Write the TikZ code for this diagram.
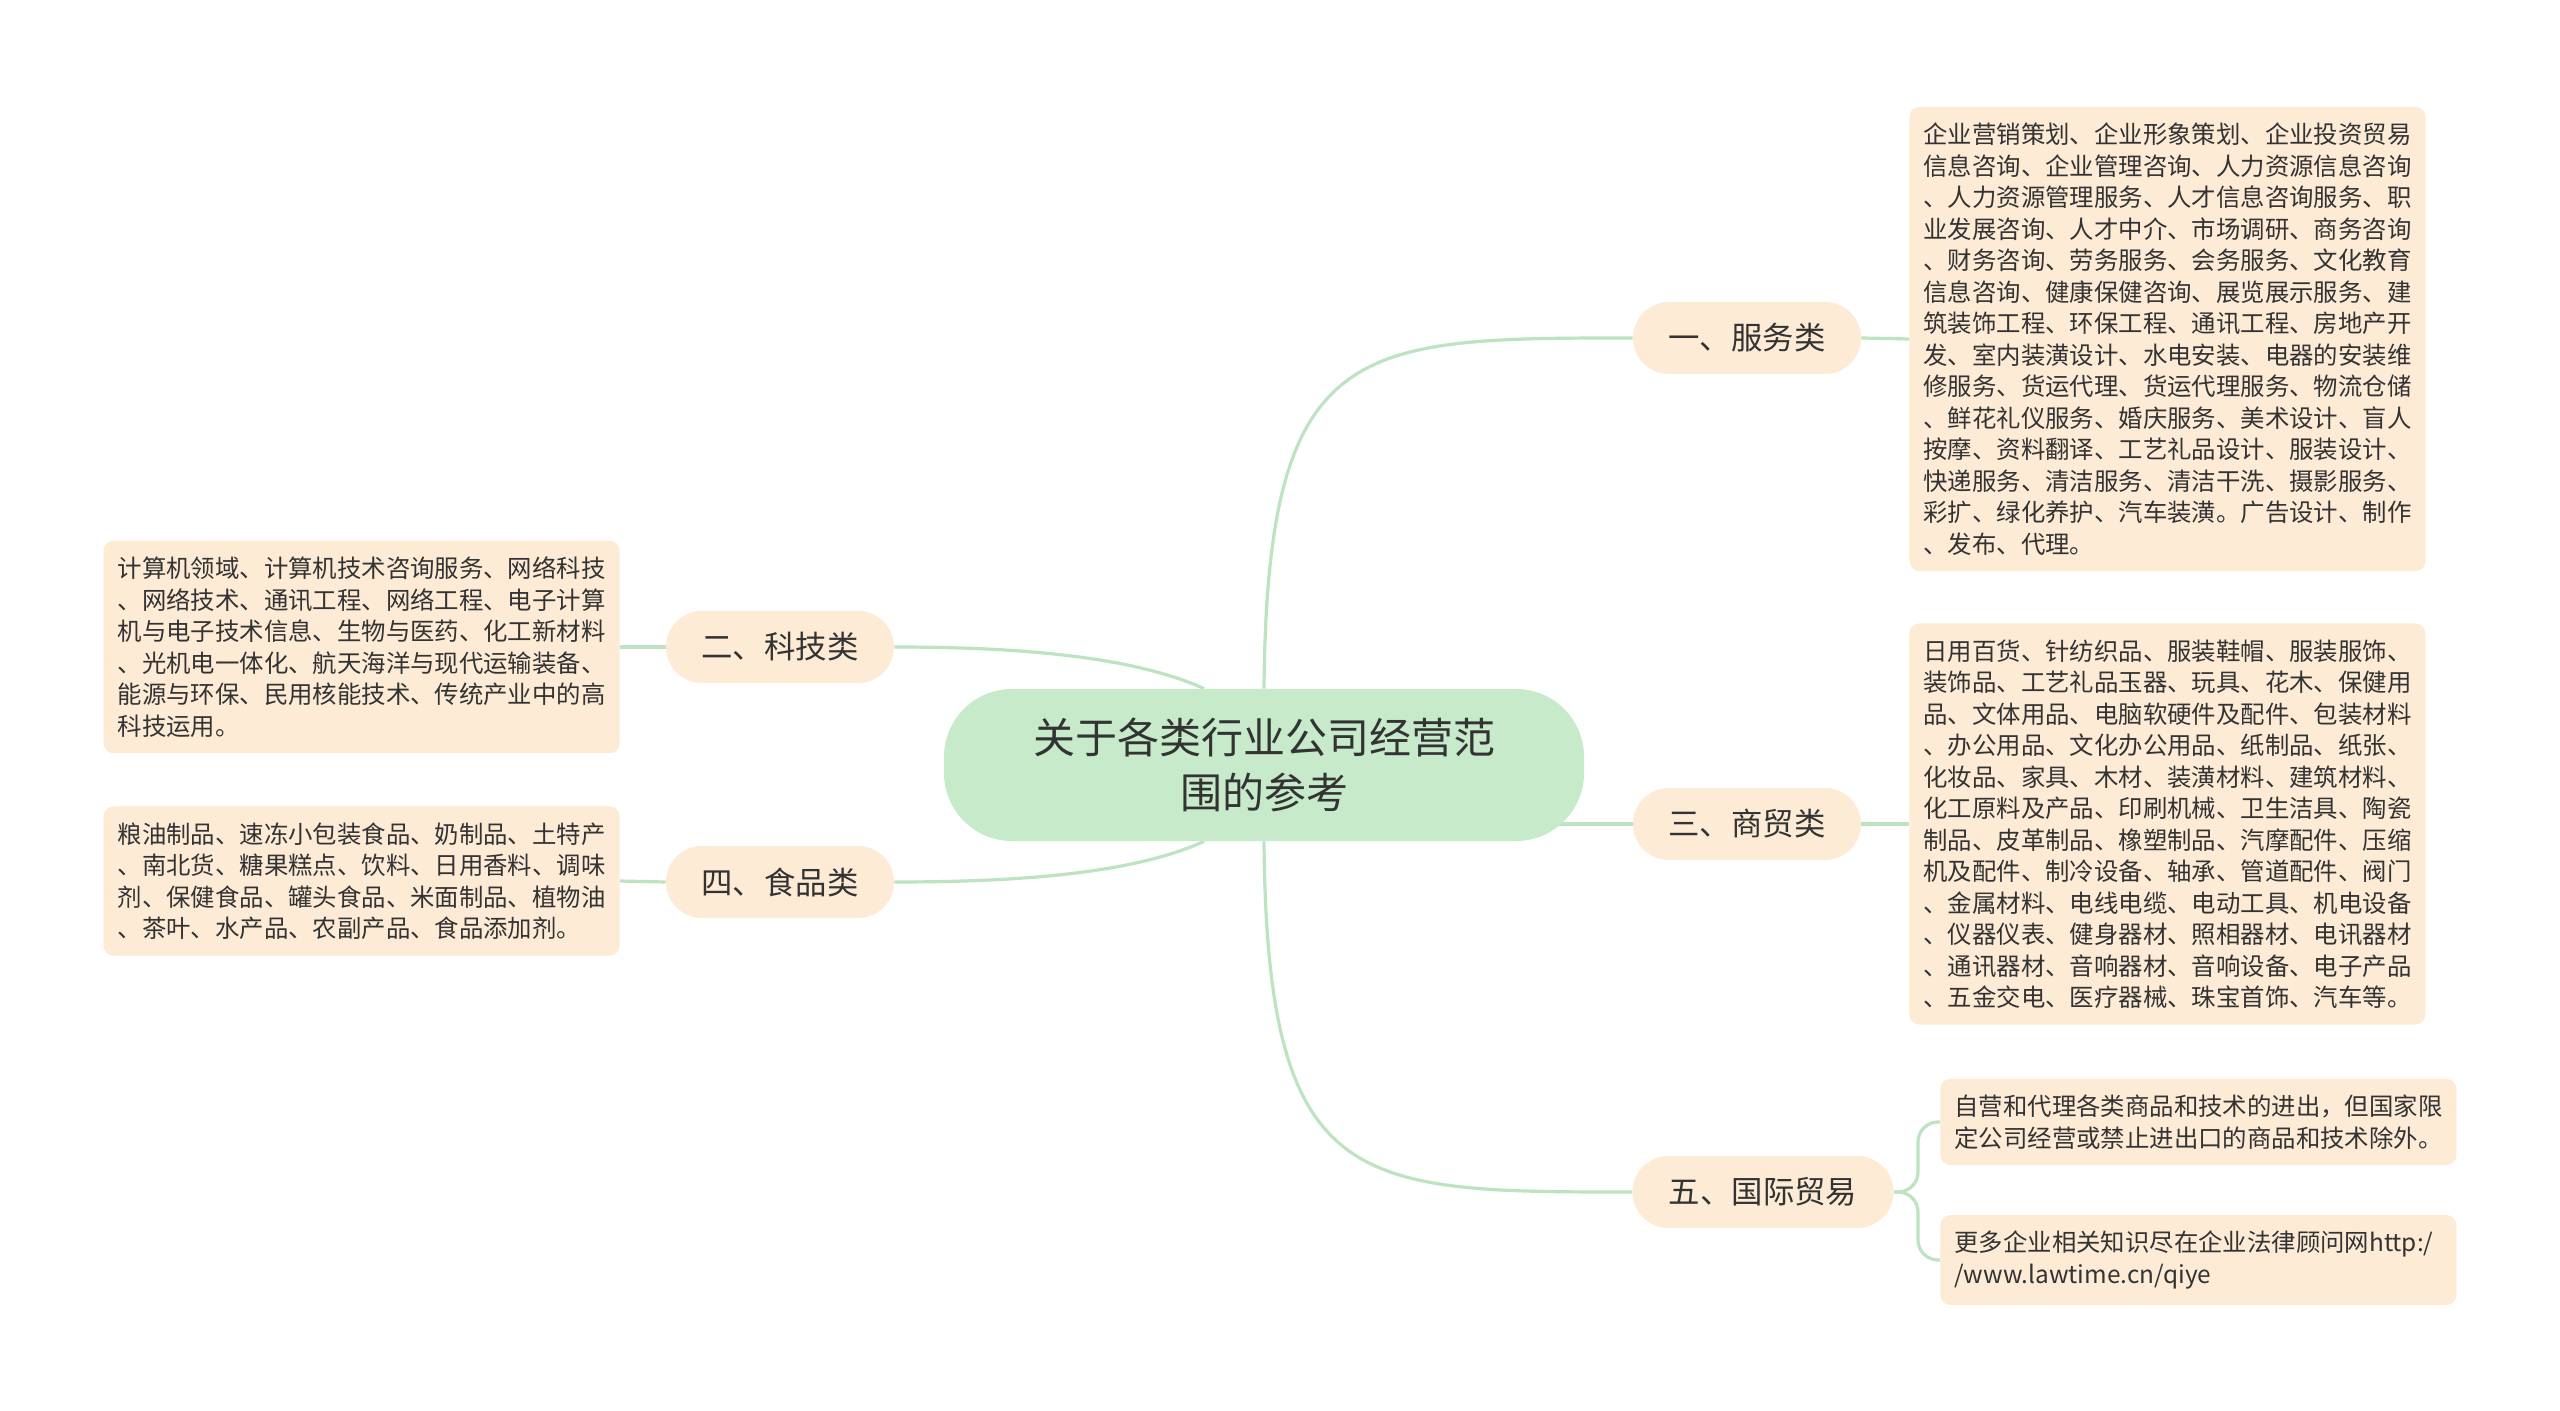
\documentclass[tikz,border=0pt]{standalone}
\usepackage{fontspec}
\setmainfont{Noto Sans CJK SC}
\usetikzlibrary{backgrounds}

\definecolor{topicgreen}{HTML}{C6EACA}
\definecolor{leafpeach}{HTML}{FDEBD6}
\definecolor{linkgreen}{HTML}{BDE3C1}
\definecolor{ink}{HTML}{333333}

\tikzset{
    topic/.style={fill=topicgreen, text=ink, rounded corners=34pt, minimum width=320pt, minimum height=76pt,
        align=center, font={\fontsize{21}{27.8}\selectfont}},
    branch/.style={fill=leafpeach, text=ink, rounded corners=18pt, minimum width=114pt, minimum height=36pt,
        font={\fontsize{15.7}{19}\selectfont}},
    leaf/.style={fill=leafpeach, text=ink, rounded corners=5pt, inner xsep=7pt, inner ysep=8pt,
        text width=244pt, align=left, font={\fontsize{12.2}{15.75}\selectfont}},
    link/.style={draw=linkgreen, line width=1.6pt},
}

\begin{document}
\begin{tikzpicture}[x=0.5pt, y=-0.5pt]
    \useasboundingbox (0, 0) rectangle (2560, 1411);

    \node[topic] (center) at (1264, 765) {关于各类行业公司经营范\\围的参考};

    \node[branch] (fu) at (1747, 338) {一、服务类};
    \node[branch] (shang) at (1747, 824) {三、商贸类};
    \node[branch, minimum width=130.5pt] (guoji) at (1763, 1192) {五、国际贸易};
    \node[branch] (keji) at (780, 647) {二、科技类};
    \node[branch] (shipin) at (780, 882) {四、食品类};

    \node[leaf, anchor=west] (fuleaf) at (1909, 339) {企业营销策划、企业形象策划、企业投资贸易\\
        信息咨询、企业管理咨询、人力资源信息咨询\\
        、人力资源管理服务、人才信息咨询服务、职\\
        业发展咨询、人才中介、市场调研、商务咨询\\
        、财务咨询、劳务服务、会务服务、文化教育\\
        信息咨询、健康保健咨询、展览展示服务、建\\
        筑装饰工程、环保工程、通讯工程、房地产开\\
        发、室内装潢设计、水电安装、电器的安装维\\
        修服务、货运代理、货运代理服务、物流仓储\\
        、鲜花礼仪服务、婚庆服务、美术设计、盲人\\
        按摩、资料翻译、工艺礼品设计、服装设计、\\
        快递服务、清洁服务、清洁干洗、摄影服务、\\
        彩扩、绿化养护、汽车装潢。广告设计、制作\\
        、发布、代理。};
    \node[leaf, anchor=west] (shangleaf) at (1909, 824) {日用百货、针纺织品、服装鞋帽、服装服饰、\\
        装饰品、工艺礼品玉器、玩具、花木、保健用\\
        品、文体用品、电脑软硬件及配件、包装材料\\
        、办公用品、文化办公用品、纸制品、纸张、\\
        化妆品、家具、木材、装潢材料、建筑材料、\\
        化工原料及产品、印刷机械、卫生洁具、陶瓷\\
        制品、皮革制品、橡塑制品、汽摩配件、压缩\\
        机及配件、制冷设备、轴承、管道配件、阀门\\
        、金属材料、电线电缆、电动工具、机电设备\\
        、仪器仪表、健身器材、照相器材、电讯器材\\
        、通讯器材、音响器材、音响设备、电子产品\\
        、五金交电、医疗器械、珠宝首饰、汽车等。};
    \node[leaf, anchor=west] (guojia) at (1940, 1122) {自营和代理各类商品和技术的进出，但国家限\\
        定公司经营或禁止进出口的商品和技术除外。};
    \node[leaf, anchor=west] (guojib) at (1940, 1260) {更多企业相关知识尽在企业法律顾问网http:/\\
        /www.lawtime.cn/qiye};
    \node[leaf, anchor=east] (kejileaf) at (620, 647) {计算机领域、计算机技术咨询服务、网络科技\\
        、网络技术、通讯工程、网络工程、电子计算\\
        机与电子技术信息、生物与医药、化工新材料\\
        、光机电一体化、航天海洋与现代运输装备、\\
        能源与环保、民用核能技术、传统产业中的高\\
        科技运用。};
    \node[leaf, anchor=east] (shipinleaf) at (620, 881) {粮油制品、速冻小包装食品、奶制品、土特产\\
        、南北货、糖果糕点、饮料、日用香料、调味\\
        剂、保健食品、罐头食品、米面制品、植物油\\
        、茶叶、水产品、农副产品、食品添加剂。};

    \coordinate (fork) at (1918, 1192);

    \begin{pgfonlayer}{background}
        \fill[white] (0, 0) rectangle (2560, 1411);
        % center to branches
        \draw[link] (center.north) .. controls (1267, 338) and (1355, 338) .. (fu.west);
        \draw[link] (center.center |- shang.west) -- (shang.west);
        \draw[link] (center.south) .. controls (1267, 1192) and (1355, 1192) .. (guoji.west);
        \draw[link] ([xshift=-30pt]center.north) .. controls (1130, 655) and (1010, 647) .. (keji.east);
        \draw[link] ([xshift=-30pt]center.south) .. controls (1130, 875) and (1010, 882) .. (shipin.east);
        % branches to leaves
        \draw[link] (fu.east) -- (fuleaf.west);
        \draw[link] (shang.east) -- (shangleaf.west);
        \draw[link] (keji.west) -- (kejileaf.east);
        \draw[link] (shipin.west) -- (shipinleaf.east);
        \draw[link, rounded corners=10pt] (guoji.east) -- (fork) |- (guojia.west);
        \draw[link, rounded corners=10pt] (guoji.east) -- (fork) |- (guojib.west);
    \end{pgfonlayer}

    %\draw[lightgray] (0, 0) grid[step=100] (2560, 1411);
\end{tikzpicture}
\end{document}
